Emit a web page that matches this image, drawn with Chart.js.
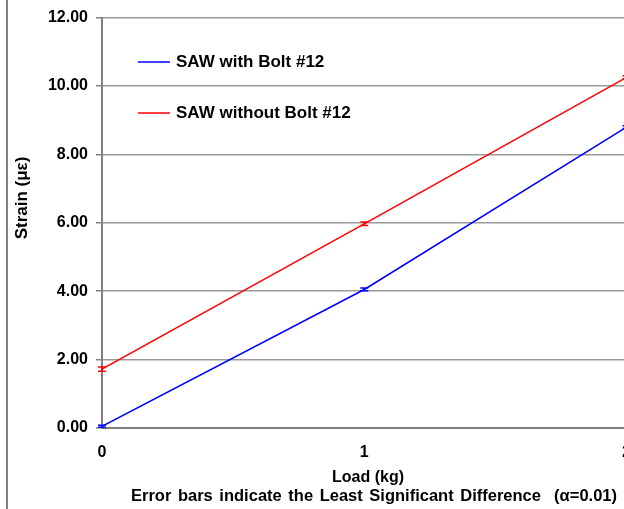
<!DOCTYPE html>
<html lang="en">
  <head>
    <meta charset="UTF-8" />
    <script src="https://cdn.jsdelivr.net/npm/chart.js"></script>
    <title>Strain vs Load</title>
    <style>
      html, body { margin: 0; padding: 0; background: #fff; overflow: hidden; }
      #strainChart { display: block; }
    </style>
  </head>
  <body>
    <canvas id="strainChart" width="646" height="509"></canvas>

  <script>
    // data
    var loads = [0, 1, 2];
    var withBolt = [0.05, 4.05, 8.80];
    var withoutBolt = [1.72, 5.97, 10.25];
    var withBoltLsd = [0.03, 0.04, 0.04];
    var withoutBoltLsd = [0.06, 0.05, 0.05];
    var seriesNames = ['SAW with Bolt #12', 'SAW without Bolt #12'];
    var yTitle = 'Strain (\u03bc\u03b5)';
    var xTitle = 'Load (kg)';
    var note = 'Error bars indicate the Least Significant Difference  (\u03b1=0.01)';

    var font = '"Liberation Sans", Arial, sans-serif';

    function pts(ys) {
      return loads.map(function (x, i) { return { x: x, y: ys[i] }; });
    }

    // error bars, legend, titles and frame line
    var extras = {
      id: 'extras',
      afterDatasetsDraw: function (chart) {
        var ctx = chart.ctx;
        var xs = chart.scales.x, ys = chart.scales.y;
        var sets = [[withBolt, withBoltLsd, '#0000ff'], [withoutBolt, withoutBoltLsd, '#ff0000']];
        ctx.save();
        sets.forEach(function (s) {
          ctx.strokeStyle = s[2];
          ctx.lineWidth = 1.5;
          loads.forEach(function (x, i) {
            var px = xs.getPixelForValue(x);
            var top = ys.getPixelForValue(s[0][i] + s[1][i]);
            var bot = ys.getPixelForValue(s[0][i] - s[1][i]);
            ctx.beginPath();
            ctx.moveTo(px, top); ctx.lineTo(px, bot);
            ctx.moveTo(px - 4, top); ctx.lineTo(px + 4, top);
            ctx.moveTo(px - 4, bot); ctx.lineTo(px + 4, bot);
            ctx.stroke();
          });
        });

        // legend
        var leg = [[62, '#0000ff'], [113, '#ff0000']];
        ctx.font = 'bold 17px ' + font;
        ctx.textBaseline = 'middle';
        ctx.textAlign = 'left';
        leg.forEach(function (l, i) {
          ctx.strokeStyle = l[1];
          ctx.lineWidth = 1.5;
          ctx.beginPath();
          ctx.moveTo(138, l[0]); ctx.lineTo(170, l[0]);
          ctx.stroke();
          ctx.fillStyle = '#000';
          ctx.fillText(seriesNames[i], 176, l[0]);
        });

        // axis titles
        ctx.textAlign = 'center';
        ctx.font = 'bold 17px ' + font;
        ctx.save();
        ctx.translate(22, 198);
        ctx.rotate(-Math.PI / 2);
        ctx.fillText(yTitle, 0, 0);
        ctx.restore();
        ctx.font = 'bold 16px ' + font;
        ctx.fillText(xTitle, 368, 478);
        ctx.font = 'bold 16.5px ' + font;
        if ('wordSpacing' in ctx) ctx.wordSpacing = '2px';
        ctx.fillText(note, 374, 496);
        if ('wordSpacing' in ctx) ctx.wordSpacing = '0px';

        // outer frame line on the left
        ctx.strokeStyle = '#808080';
        ctx.lineWidth = 2;
        ctx.beginPath();
        ctx.moveTo(7, 0); ctx.lineTo(7, 509);
        ctx.stroke();
        ctx.restore();
      }
    };

    var ctx = document.getElementById('strainChart').getContext('2d');
    var strainChart = new Chart(ctx, {
      type: 'line',
      data: {
        datasets: [{
          label: seriesNames[0],
          data: pts(withBolt),
          borderColor: '#0000ff',
          borderWidth: 1.5,
          pointRadius: 0,
          fill: false
        }, {
          label: seriesNames[1],
          data: pts(withoutBolt),
          borderColor: '#ff0000',
          borderWidth: 1.5,
          pointRadius: 0,
          fill: false
        }]
      },
      options: {
        responsive: false,
        animation: false,
        layout: { padding: { top: 9, left: 0, right: 0, bottom: 0 } },
        plugins: {
          legend: { display: false },
          tooltip: { enabled: false }
        },
        scales: {
          x: {
            type: 'linear',
            min: 0,
            max: 2,
            afterFit: function (s) { s.height = 81; },
            ticks: {
              stepSize: 1,
              color: '#000',
              padding: 15,
              font: { family: font, size: 16, weight: 'bold' }
            },
            grid: { drawOnChartArea: false, drawTicks: false },
            border: { color: '#808080', width: 2 }
          },
          y: {
            min: 0,
            max: 12,
            afterFit: function (s) { s.width = 102; },
            ticks: {
              stepSize: 2,
              color: '#000',
              padding: 8,
              font: { family: font, size: 16, weight: 'bold' },
              callback: function (v) { return v.toFixed(2); }
            },
            grid: { color: '#9a9a9a', lineWidth: 1.5, tickLength: 6, tickColor: '#808080' },
            border: { color: '#808080', width: 2 }
          }
        }
      },
      plugins: [extras]
    });
  </script>
  </body>
</html>
